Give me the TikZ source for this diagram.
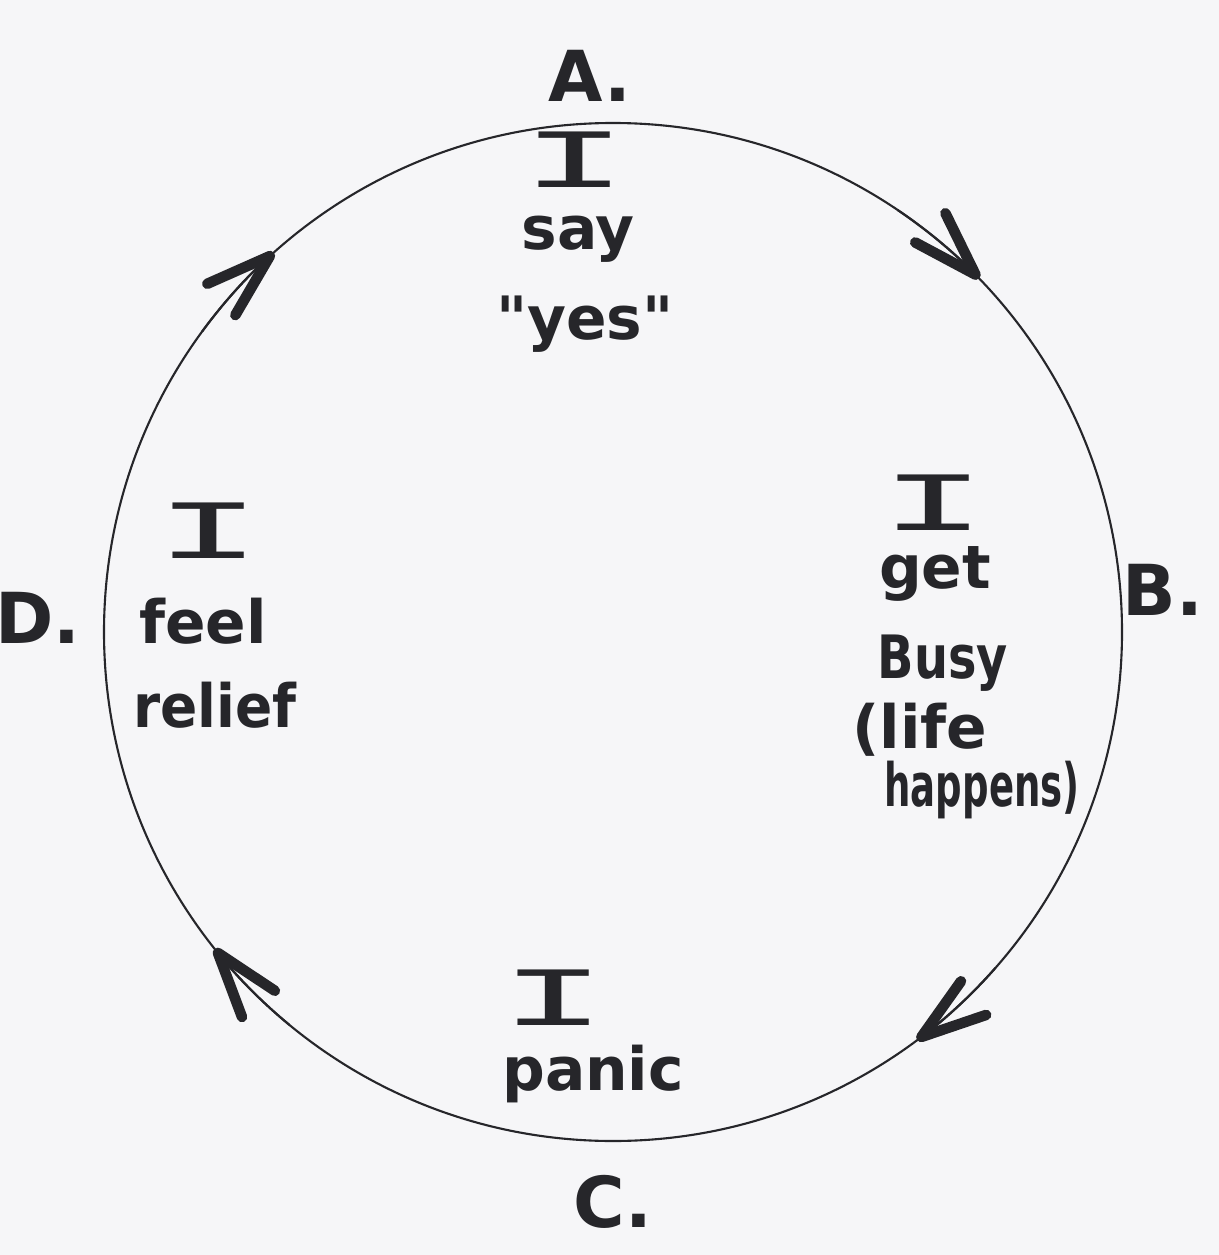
\documentclass[tikz,border=0pt]{standalone}
\usepackage{fontspec}
\usepackage{graphicx}
\newfontfamily\handfont{DejaVu Sans}
\newfontfamily\slabfont{Liberation Mono}
\usetikzlibrary{arrows.meta}
\definecolor{paper}{RGB}{246,246,248}
\definecolor{ink}{RGB}{38,38,42}
\newcommand{\bigI}{{\slabfont\mdseries\fontsize{24}{28}\selectfont\scalebox{2.1}[1]{I}}}

\begin{document}
\begin{tikzpicture}[x=0.01cm, y=-0.01cm,
    word/.style={anchor=base, inner sep=0pt, text=ink, font=\handfont\bfseries\fontsize{17}{21}\selectfont},
    stage/.style={anchor=base, inner sep=0pt, text=ink, font=\handfont\bfseries\fontsize{20}{24}\selectfont},
    ring/.style={draw=ink, line width=0.6pt},
    barb/.style={draw=ink, line width=0.6pt,
      -{Straight Barb[length=6.5mm, width=4.2mm, line width=3pt, round]}}]
  \fill[paper] (0,0) rectangle (1219,1255);
  \useasboundingbox (0,0) rectangle (1219,1255);

  % the cycle
  \coordinate (hub) at (613,632);
  \draw[ring] (hub) circle[radius=509];

  % clockwise arrow heads
  \draw[barb] ([shift={(-56:509)}]hub) arc[start angle=-56, end angle=-44, radius=509];
  \draw[barb] ([shift={(41.3:509)}]hub) arc[start angle=41.3, end angle=53.3, radius=509];
  \draw[barb] ([shift={(129.5:509)}]hub) arc[start angle=129.5, end angle=141.5, radius=509];
  \draw[barb] ([shift={(-143.8:509)}]hub) arc[start angle=-143.8, end angle=-131.8, radius=509];

  % stage letters
  \node[stage] (stA) at (590,102) {A.};
  \node[stage] (stB) at (1163,615) {B.};
  \node[stage] (stC) at (613,1227) {C.};
  \node[stage] (stD) at (38,643) {D.};

  % A
  \node[word] (sayI) at (575,188) {\bigI};
  \node[word] (say) at (578,250) {say};
  \node[word] (yes) at (585,340) {"yes"};

  % B
  \node[word] (getI) at (934,530) {\bigI};
  \node[word] (get) at (935,588) {get};
  \node[word] (busy) at (943,678) {\scalebox{0.8}[1]{Busy}};
  \node[word] (life) at (920,748) {(life};
  \node[word] (happens) at (982,806) {\scalebox{0.62}[1]{happens)}};

  % C
  \node[word] (panicI) at (554,1025) {\bigI};
  \node[word] (panic) at (593,1090) {panic};

  % D
  \node[word] (reliefI) at (209,558) {\bigI};
  \node[word] (feel) at (203,643) {feel};
  \node[word] (relief) at (215,727) {\scalebox{0.92}[1]{relief}};
\end{tikzpicture}
\end{document}
